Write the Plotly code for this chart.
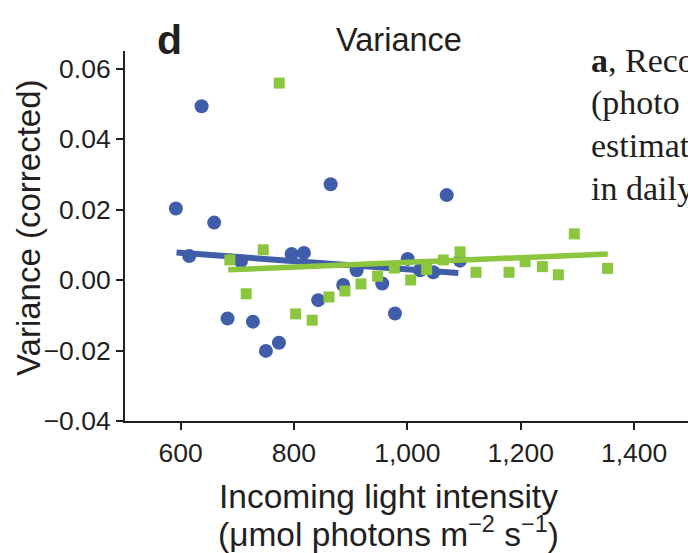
import plotly.graph_objects as go

# ---- data ----
blue_x = [591.7, 615.2, 637.1, 659.3, 682.9, 706.4, 727.6, 750.5, 773.5, 795.9, 817.6,
          842.8, 864.7, 886.9, 910.6, 955.7, 978.2, 1000.6, 1022.3, 1045.7, 1069.4, 1092.9]
blue_y = [0.0203, 0.0068, 0.0493, 0.0163, -0.0109, 0.0053, -0.0118, -0.0201, -0.0178, 0.0074, 0.0077,
          -0.0057, 0.0272, -0.0014, 0.0028, -0.0010, -0.0095, 0.0060, 0.0028, 0.0022, 0.0241, 0.0055]

green_x = [687.0, 715.8, 745.8, 774.0, 802.9, 832.2, 861.7, 889.9, 918.2, 947.6, 976.9,
           1005.9, 1034.1, 1063.4, 1092.9, 1121.1, 1179.3, 1207.6, 1238.1, 1266.3, 1294.5, 1353.1]
green_y = [0.0057, -0.0039, 0.0086, 0.0559, -0.0096, -0.0114, -0.0048, -0.0031, -0.0011, 0.0011, 0.0034,
           0.0000, 0.0030, 0.0057, 0.0080, 0.0022, 0.0022, 0.0052, 0.0038, 0.0015, 0.0131, 0.0033]

blue_fit_x = [592.9, 1089.9]
blue_fit_y = [0.0078, 0.0020]
green_fit_x = [684.0, 1353.5]
green_fit_y = [0.0029, 0.0074]

x_ticks = [600, 800, 1000, 1200, 1400]
y_ticks = [-0.04, -0.02, 0.00, 0.02, 0.04, 0.06]

# ---- styling ----
W, H = 688, 553
ML, MR, MT, MB = 125, 0, 51, 132
PW, PH = W - ML - MR, H - MT - MB
BLUE = "#3F5DA8"
GREEN = "#8CC63F"
TXT = "#231F20"
SANS = "Liberation Sans, Arial, sans-serif"
SERIF = "Liberation Serif, Times New Roman, serif"


def px(x):
    return (x - ML) / PW


def py(y):
    return (H - MB - y) / PH


fig = go.Figure()
fig.add_trace(go.Scatter(x=blue_x, y=blue_y, mode="markers",
                         marker=dict(symbol="circle", size=14, color=BLUE), showlegend=False))
fig.add_trace(go.Scatter(x=blue_fit_x, y=blue_fit_y, mode="lines",
                         line=dict(color=BLUE, width=6), showlegend=False))
fig.add_trace(go.Scatter(x=green_x, y=green_y, mode="markers",
                         marker=dict(symbol="square", size=11, color=GREEN), showlegend=False))
fig.add_trace(go.Scatter(x=green_fit_x, y=green_fit_y, mode="lines",
                         line=dict(color=GREEN, width=5.5), showlegend=False))

axis_common = dict(showline=True, linecolor=TXT, linewidth=2, ticks="outside", ticklen=7,
                   tickwidth=2, tickcolor=TXT, showgrid=False, zeroline=False,
                   tickfont=dict(family=SANS, size=26.5, color=TXT))

fig.update_xaxes(range=[502, 1495], tickvals=x_ticks, tickformat=",d", **axis_common)
fig.update_yaxes(range=[-0.04, 0.065], tickvals=y_ticks, tickformat=".2f", **axis_common)

ann = []
ann.append(dict(text="Variance (corrected)", x=px(28), y=py(228), textangle=-90,
                font=dict(family=SANS, size=33, color=TXT)))
ann.append(dict(text="Incoming light intensity", x=px(388), y=py(496),
                font=dict(family=SANS, size=33.5, color=TXT)))
ann.append(dict(text="(μmol photons m<sup>−2</sup> s<sup>−1</sup>)", x=px(388), y=py(532),
                font=dict(family=SANS, size=33.5, color=TXT)))
ann.append(dict(text="Variance", x=px(399), y=py(40.5),
                font=dict(family=SANS, size=32.5, color=TXT)))
ann.append(dict(text="<b>d</b>", x=px(155), y=py(40.5), xanchor="left",
                font=dict(family=SANS, size=41, color=TXT)))
serif_lines = ["<b>a</b>, Reco", "(photo", "estimat", "in daily"]
serif_mid = [60.3, 103.1, 145.9, 188.6]
for t, m in zip(serif_lines, serif_mid):
    ann.append(dict(text=t, x=px(589), y=py(m), xanchor="left",
                    font=dict(family=SERIF, size=34, color=TXT)))
for a in ann:
    a.update(xref="paper", yref="paper", showarrow=False, yanchor="middle")
    a.setdefault("xanchor", "center")

fig.update_layout(width=W, height=H, margin=dict(l=ML, r=MR, t=MT, b=MB),
                  paper_bgcolor="white", plot_bgcolor="white", annotations=ann,
                  showlegend=False)

fig.write_html("out.html", config={"displayModeBar": False},
               post_script="document.body.style.margin='0';document.body.style.overflow='hidden';")
